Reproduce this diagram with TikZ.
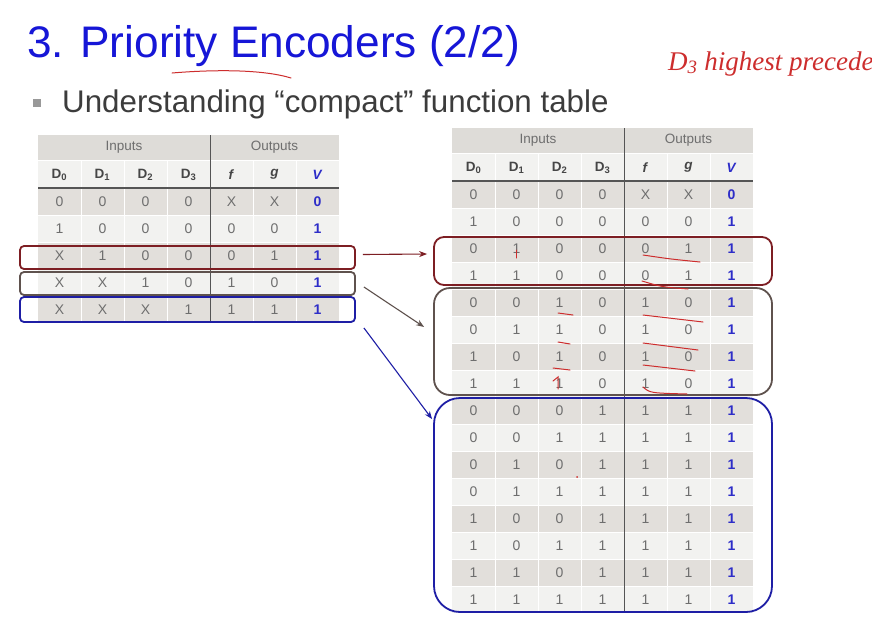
\documentclass[tikz,border=0pt]{standalone}
\usepackage{fontspec}
\setmainfont{Liberation Sans}
\newfontfamily\handfont{Liberation Serif}
\usetikzlibrary{positioning,arrows.meta}
\definecolor{titleblue}{RGB}{22,22,215}
\definecolor{subgray}{RGB}{60,60,60}
\definecolor{txtgray}{RGB}{70,70,70}
\definecolor{cellgray}{RGB}{110,110,110}
\definecolor{rowdark}{RGB}{226,223,219}
\definecolor{rowlight}{RGB}{242,242,240}
\definecolor{bandgray}{RGB}{222,220,216}
\definecolor{ruleg}{RGB}{85,85,85}
\definecolor{vblue}{RGB}{45,45,200}
\definecolor{boxred}{RGB}{125,30,35}
\definecolor{boxbrown}{RGB}{95,82,78}
\definecolor{boxblue}{RGB}{30,30,165}
\definecolor{inkred}{RGB}{205,45,45}

% #1 name, #2 left, #3 top, #4 rows, #5 number of rows
\newcommand{\truthtable}[5]{%
  \begin{scope}[shift={(#2,#3)}]
    \fill[bandgray] (0,0) rectangle (301,25);
    \fill[rowlight] (0,25) rectangle (301,53);
    \foreach \row [count=\r] in {#4}{%
      \ifodd\r \def\rowfill{rowdark}\else \def\rowfill{rowlight}\fi
      \fill[\rowfill] (0,26+27*\r) rectangle (301,53+27*\r);
      \foreach \val [count=\c] in \row{%
        \ifnum\c=7 \def\cellsty{vcell}\else \def\cellsty{cell}\fi
        \node[\cellsty] (#1-\r-\c) at (43*\c-21.5,39.5+27*\r) {\val};}}
    \foreach \k in {1,...,6} \draw[white,line width=0.8pt] (43*\k,25) -- (43*\k,53+27*#5);
    \foreach \k in {1,...,#5} \draw[white,line width=0.8pt] (0,53+27*\k) -- (301,53+27*\k);
    \draw[white,line width=0.8pt] (0,25) -- (301,25);
    \draw[ruleg,line width=1.6pt] (0,53) -- (301,53);
    \draw[ruleg,line width=1pt] (172,0) -- (172,53+27*#5);
    \node[headtxt] (#1-in) at (86,12.5) {Inputs};
    \node[headtxt] (#1-out) at (236.5,12.5) {Outputs};
    \foreach \h [count=\c] in {D\textsubscript{0},D\textsubscript{1},D\textsubscript{2},D\textsubscript{3},\textit{f},\textit{g}}
      \node[colhead] (#1-h\c) at (43*\c-21.5,39.5) {\h};
    \node[colhead,text=vblue] (#1-h7) at (279.5,39.5) {\textit{V}};
  \end{scope}}

\begin{document}
\begin{tikzpicture}[x=1pt,y=-1pt,
  cell/.style={text=cellgray,font=\fontsize{14}{16}\selectfont,inner sep=0pt},
  vcell/.style={text=vblue,font=\bfseries\fontsize{14}{16}\selectfont,inner sep=0pt},
  headtxt/.style={text=cellgray,font=\fontsize{13.5}{16}\selectfont,inner sep=0pt},
  colhead/.style={text=txtgray,font=\bfseries\fontsize{13.5}{16}\selectfont,inner sep=0pt},
  selbox/.style={draw=#1,line width=1.8pt,inner sep=0pt},
  pointer/.style={draw=#1,line width=1.1pt,-{Stealth[length=8pt,width=6pt]}},
  ink/.style={draw=inkred,line width=1pt,line cap=round}]
\useasboundingbox[fill=white] (0,0) rectangle (872,624);

\node[anchor=base west,inner sep=0pt,text=titleblue,font=\fontsize{44.2}{50}\selectfont] (title) at (27,57) {3. Priority Encoders (2/2)};
\fill[black!40] (33,99) rectangle (41,107);
\node[anchor=base west,inner sep=0pt,text=subgray,font=\fontsize{31.3}{36}\selectfont] (sub) at (62,112) {Understanding “compact” function table};

\truthtable{lt}{38}{135}{{0,0,0,0,X,X,0},{1,0,0,0,0,0,1},{X,1,0,0,0,1,1},{X,X,1,0,1,0,1},{X,X,X,1,1,1,1}}{5}
\truthtable{rt}{452}{128}{{0,0,0,0,X,X,0},{1,0,0,0,0,0,1},{0,1,0,0,0,1,1},{1,1,0,0,0,1,1},
  {0,0,1,0,1,0,1},{0,1,1,0,1,0,1},{1,0,1,0,1,0,1},{1,1,1,0,1,0,1},
  {0,0,0,1,1,1,1},{0,0,1,1,1,1,1},{0,1,0,1,1,1,1},{0,1,1,1,1,1,1},
  {1,0,0,1,1,1,1},{1,0,1,1,1,1,1},{1,1,0,1,1,1,1},{1,1,1,1,1,1,1}}{16}

% selected rows
\node[selbox=boxred,rounded corners=4pt,minimum width=335pt,minimum height=23pt] (lred) at (187.5,257.5) {};
\node[selbox=boxbrown,rounded corners=4pt,minimum width=335pt,minimum height=23pt] (lbrn) at (187.5,283.5) {};
\node[selbox=boxblue,rounded corners=4pt,minimum width=335pt,minimum height=25pt] (lblu) at (187.5,309.5) {};
\node[selbox=boxred,rounded corners=10pt,minimum width=338pt,minimum height=48pt] (rred) at (603,261) {};
\node[selbox=boxbrown,rounded corners=16pt,minimum width=338pt,minimum height=107pt] (rbrn) at (603,341.5) {};
\node[selbox=boxblue,rounded corners=26pt,minimum width=338pt,minimum height=214pt] (rblu) at (603,505) {};

\draw[pointer=boxred] ([xshift=7pt,yshift=3pt]lred.east) -- ([xshift=-6pt,yshift=7pt]rred.west);
\draw[pointer=boxbrown] ([xshift=8pt,yshift=-3.5pt]lbrn.east) -- ([xshift=-9pt,yshift=14.5pt]rbrn.west);
\draw[pointer=boxblue] ([xshift=8pt,yshift=-5pt]lblu.south east) -- ([xshift=-1pt,yshift=-22pt]rblu.north west);

% handwriting
\draw[ink] (172,73) .. controls (220,69) and (265,70) .. (291,78);
\node[anchor=base west,inner sep=0pt,text=inkred,font=\handfont\itshape\fontsize{27}{30}\selectfont] (note) at (668,70) {D\textsubscript{3} highest precede};
\draw[ink] (516,250) -- (516,258);
\draw[ink] (643,255) .. controls (670,259) .. (700,262);
\draw[ink] (642,281) .. controls (662,287) .. (688,289);
\draw[ink] (558,313) -- (573,315);
\draw[ink] (558,342) -- (570,344);
\draw[ink] (553,368) -- (570,370);
\draw[ink] (553,381) -- (558,377) -- (558,389);
\draw[ink] (643,315) -- (703,322);
\draw[ink] (643,343) -- (698,350);
\draw[ink] (643,365) -- (695,371);
\draw[ink] (643,387) .. controls (650,393) .. (687,394);
\fill[inkred] (577,477) circle (1);
\end{tikzpicture}
\end{document}
